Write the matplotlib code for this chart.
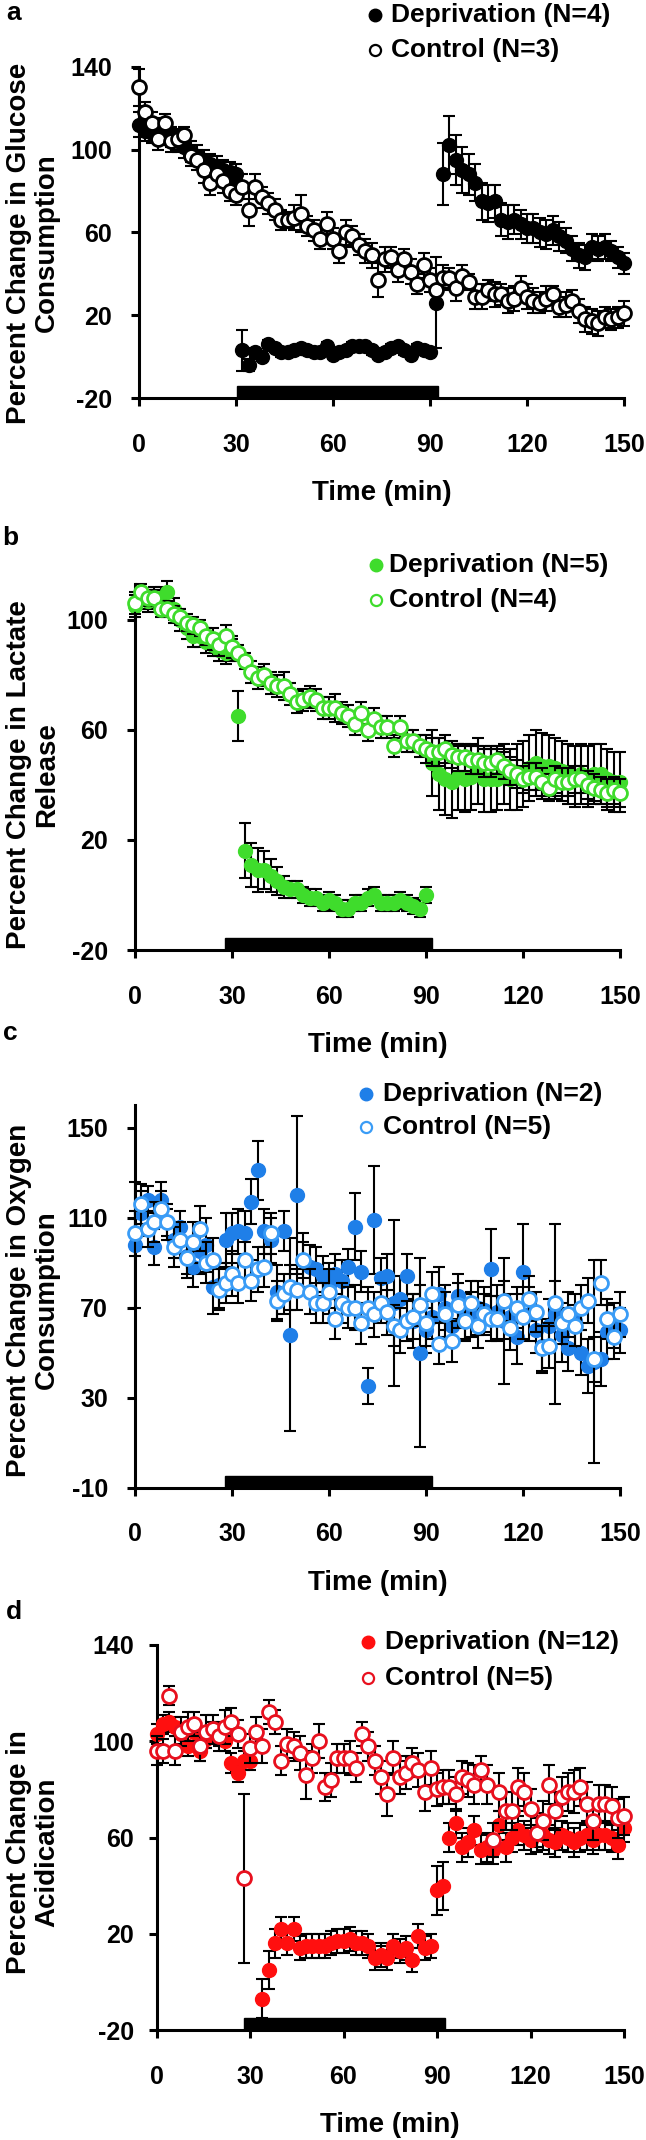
import matplotlib
matplotlib.use("Agg")
import matplotlib.pyplot as plt
import numpy as np
import matplotlib.transforms as mtransforms
from matplotlib.patches import Rectangle
from matplotlib.lines import Line2D

plt.rcParams['font.family'] = ['Liberation Sans', 'DejaVu Sans']
plt.rcParams['font.weight'] = 'bold'
plt.rcParams['axes.unicode_minus'] = False

nan = np.nan

TIME = [0, 2, 4, 6, 8, 10, 12, 14, 16, 18,
        20, 22, 24, 26, 28, 30, 32, 34, 36, 38,
        40, 42, 44, 46, 48, 50, 52, 54, 56, 58,
        60, 62, 64, 66, 68, 70, 72, 74, 76, 78,
        80, 82, 84, 86, 88, 90, 92, 94, 96, 98,
        100, 102, 104, 106, 108, 110, 112, 114, 116, 118,
        120, 122, 124, 126, 128, 130, 132, 134, 136, 138,
        140, 142, 144, 146, 148, 150]

# ---- a: glucose consumption ----
glucose_ctrl = [130, 118, 113, 105, 113, 104, 105, 107, 97, 95,
                90, 84, 88, 85, 80, 78, 82, 71, 82, 77,
                74, 71, 66, 66, 67, 69, 63, 61, 57, 64,
                57, 51, 60, 58, 54, 51, 49, 37, 47, 48,
                42, 47, 41, 35, 44, 37, 32, 38, 38, 33,
                39, 36, 29, 29, 32, 30, 30, 27, 28, 33,
                29, 27, 26, 28, 30, 24, 25, 27, 22, 18,
                17, 16, 19, 18, 19, 21]
glucose_ctrl_err = [9, 5, 5, 5, 4, 5, 5, 4, 5, 5,
                    6, 6, 5, 6, 5, 5, 6, 8, 6, 5,
                    5, 5, 5, 4, 6, 9, 5, 5, 5, 6,
                    5, 6, 6, 5, 5, 6, 6, 8, 6, 5,
                    6, 5, 6, 5, 6, 6, 7, 6, 5, 6,
                    5, 4, 6, 6, 5, 6, 5, 6, 6, 6,
                    6, 6, 5, 6, 4, 5, 6, 5, 6, 6,
                    6, 6, 5, 5, 5, 6]
glucose_dep = [112, 109, 108, 110, 107, 106, 104, 101, 99, 97,
               95, 93, 92, 90, 89, 88, 3, -4, 2, 0,
               6, 4, 2, 2, 3, 4, 3, 2, 2, 5,
               1, 2, 3, 5, 5, 5, 3, 1, 2, 4,
               5, 3, 1, 4, 3, 2, 26, 88, 102, 95,
               90, 88, 84, 75, 74, 75, 66, 65, 66, 64,
               62, 62, 60, 59, 61, 58, 56, 52, 49, 48,
               53, 52, 53, 51, 48, 45]
glucose_dep_err = [6, 5, 5, 5, 5, 5, 5, 5, 5, 5,
                   5, 5, 5, 5, 5, 5, 10, 3, 2, 2,
                   2, 2, 2, 2, 2, 2, 2, 2, 2, 2,
                   2, 2, 2, 2, 2, 2, 2, 2, 2, 2,
                   2, 2, 2, 2, 2, 2, 22, 15, 14, 12,
                   11, 10, 9, 9, 9, 8, 8, 8, 7, 7,
                   7, 7, 7, 7, 7, 7, 6, 6, 6, 6,
                   6, 6, 6, 5, 5, 5]

# ---- b: lactate release ----
lactate_ctrl = [106, 110, 108, 108, 104, 104, 102, 101, 99, 98,
                97, 94, 93, 91, 94, 90, 88, 85, 81, 79,
                80, 77, 76, 76, 73, 70, 71, 72, 71, 68,
                68, 68, 66, 65, 62, 66, 60, 64, 61, 61,
                54, 61, 56, 56, 54, 53, 52, 52, 53, 51,
                50, 50, 49, 49, 48, 48, 49, 47, 45, 44,
                42, 43, 43, 41, 39, 42, 41, 41, 42, 42,
                40, 39, 38, 37, 38, 37]
lactate_ctrl_err = [4, 3, 3, 3, 3, 3, 3, 3, 3, 3,
                    3, 3, 4, 4, 4, 4, 3, 3, 4, 4,
                    4, 4, 4, 5, 4, 4, 4, 4, 4, 4,
                    4, 5, 4, 4, 4, 4, 4, 4, 4, 4,
                    4, 4, 4, 4, 4, 5, 5, 5, 5, 5,
                    5, 5, 5, 5, 5, 5, 5, 5, 5, 5,
                    5, 5, 5, 5, 5, 5, 5, 5, 5, 5,
                    5, 5, 5, 5, 5, 5]
lactate_dep = [105, 108, 107, 108, 108, 110, 104, 100, 97, 94,
               94, 92, 91, 89, 88, 89, 65, 16, 11, 9,
               9, 7, 5, 3, 2, 2, 0, -1, -1, -3,
               -2, -3, -5, -5, -3, -3, -1, 0, -3, -3,
               -3, -2, -3, -4, -5, 0, 48, 44, 42, 41,
               43, 42, 43, 45, 42, 42, 42, 44, 42, 43,
               44, 46, 48, 47, 47, 46, 45, 44, 43, 44,
               43, 44, 44, 42, 41, 41]
lactate_dep_err = [4, 4, 4, 4, 4, 4, 4, 4, 4, 4,
                   4, 4, 4, 4, 4, 4, 9, 10, 8, 8,
                   7, 6, 5, 4, 3, 3, 3, 3, 3, 3,
                   3, 3, 3, 3, 3, 3, 3, 3, 3, 3,
                   3, 3, 3, 3, 3, 3, 12, 13, 13, 13,
                   12, 12, 12, 12, 12, 12, 11, 11, 11, 12,
                   12, 12, 12, 12, 11, 11, 11, 11, 11, 11,
                   11, 11, 11, 11, 11, 11]

# ---- c: oxygen consumption ----
oxygen_ctrl = [103, 116, 105, 108, 114, 108, 97, 100, 92, 99,
               105, 90, 91, 78, 81, 85, 81, 91, 82, 87,
               88, 103, 73, 76, 79, 78, 91, 77, 72, 72,
               77, 65, 72, 70, 70, 63, 70, 67, 72, 68,
               62, 60, 64, 66, 71, 63, 76, 54, 67, 55,
               71, 64, 72, 62, 67, 65, 65, 73, 61, 70,
               66, 74, 68, 52, 53, 72, 63, 67, 62, 70,
               73, 47, 81, 65, 57, 67]
oxygen_ctrl_err = [10, 9, 8, 9, 8, 8, 9, 8, 9, 9,
                   10, 9, 10, 9, 9, 10, 9, 8, 9, 10,
                   9, 9, 9, 9, 10, 9, 8, 10, 9, 9,
                   10, 9, 9, 9, 10, 9, 9, 10, 9, 10,
                   9, 10, 9, 10, 9, 10, 10, 9, 10, 9,
                   10, 9, 10, 10, 9, 10, 10, 9, 10, 9,
                   10, 10, 9, 10, 10, 10, 9, 10, 9, 10,
                   10, 10, 10, 9, 10, 10]
oxygen_dep = [98, 112, 118, 97, 118, 108, 100, 106, 93, 88,
              95, 98, 79, 80, 100, 103, 104, 103, 117, 131,
              104, 100, 77, 104, 58, 120, 91, 88, 87, 84,
              80, 85, 82, 88, 106, 86, 35, 109, 83, 84,
              72, 74, 84, 64, 50, 60, 66, 76, 70, 62,
              75, 66, 67, 70, 69, 87, 68, 64, 66, 57,
              86, 67, 60, 53, 62, 67, 58, 52, 64, 50,
              44, 46, 47, 59, 62, 60]
oxygen_dep_err = [28, 10, 6, 8, 8, 6, 8, 7, 8, 9,
                  10, 12, 12, 10, 12, 9, 10, 10, 10, 13,
                  10, 10, 12, 9, 43, 35, 12, 10, 10, 9,
                  10, 9, 9, 8, 15, 9, 8, 24, 9, 10,
                  37, 10, 10, 12, 42, 10, 10, 12, 10, 9,
                  10, 10, 10, 12, 10, 18, 12, 28, 10, 12,
                  21, 12, 10, 12, 12, 40, 12, 10, 12, 10,
                  12, 45, 12, 12, 10, 10]

# ---- d: acidification ----
acid_ctrl = [96, 96, 119, 96, 104, 106, 107, 98, 104, 105,
             102, 106, 108, 103, 43, 97, 104, 98, 112, 108,
             92, 99, 98, 95, 86, 93, 100, 81, 84, 93,
             93, 93, 89, 103, 98, 92, 85, 78, 93, 85,
             87, 91, 88, 79, 89, 80, 81, 81, 78, 85,
             84, 82, 88, 82, 59, 79, 71, 71, 81, 79,
             72, 62, 67, 82, 71, 77, 79, 79, 81, 74,
             67, 74, 74, 73, 68, 69]
acid_ctrl_err = [6, 5, 4, 6, 6, 6, 5, 6, 7, 6,
                 6, 7, 6, 6, 35, 6, 6, 7, 5, 5,
                 6, 6, 6, 7, 10, 6, 7, 6, 7, 6,
                 6, 7, 6, 5, 6, 6, 7, 9, 7, 7,
                 7, 6, 7, 8, 7, 7, 7, 7, 7, 7,
                 7, 8, 6, 8, 7, 8, 8, 8, 8, 8,
                 8, 8, 8, 8, 8, 8, 8, 9, 8, 9,
                 8, 8, 8, 8, 8, 8]
acid_dep = [103, 107, 108, 106, 103, 98, 104, 96, 101, 104,
            102, 100, 91, 87, 92, 92, nan, -7, 5, 16,
            22, 16, 22, 14, 15, 15, 15, 15, 16, 17,
            17, 18, 16, 16, 15, 10, 11, 10, 15, 13,
            14, 9, 19, 14, 15, 38, 40, 60, 66, 56,
            58, 63, 55, 56, 55, 65, 56, 60, 63, 61,
            59, 62, 61, 59, 58, 61, 60, 58, 60, 61,
            59, 61, 61, 60, 57, 64]
acid_dep_err = [4, 4, 4, 4, 4, 4, 4, 4, 4, 4,
                4, 4, 4, 4, 4, 4, 0, 8, 8, 6,
                5, 5, 5, 5, 5, 5, 5, 5, 5, 5,
                5, 5, 5, 5, 5, 5, 5, 5, 5, 5,
                5, 5, 5, 5, 5, 10, 10, 6, 6, 6,
                6, 6, 6, 6, 6, 6, 6, 6, 6, 6,
                6, 6, 6, 6, 6, 6, 6, 6, 6, 6,
                6, 6, 6, 6, 6, 6]

X_TICKS = [0, 30, 60, 90, 120, 150]
LABELS_DEP = ["Deprivation (N=4)", "Deprivation (N=5)", "Deprivation (N=2)", "Deprivation (N=12)"]
LABELS_CTRL = ["Control (N=3)", "Control (N=4)", "Control (N=5)", "Control (N=5)"]
Y_LABELS = ["Percent Change in Glucose\nConsumption",
            "Percent Change in Lactate\nRelease",
            "Percent Change in Oxygen\nConsumption",
            "Percent Change in\nAcidication"]
Y_TICKS = [[-20, 20, 60, 100, 140], [-20, 20, 60, 100], [-10, 30, 70, 110, 150], [-20, 20, 60, 100, 140]]
Y_LIMS = [(-20, 140), (-20, 113), (-10, 160), (-20, 140)]
BARS = [(30.3, 92.4), (27.8, 91.8), (27.8, 91.8), (28.0, 92.5)]
LETTERS = ["a", "b", "c", "d"]

W, H = 646, 2140
fig = plt.figure(figsize=(W / 100, H / 100), dpi=100)

# layout in pixels: left, right, top, bottom of the plotting area
layout = [
    dict(l=139, r=624, t=66.7, b=398, ypad=13.5, ylab_y=243, letter=(14, 13),
         leg=(375, 391, 15, 50)),
    dict(l=135, r=620, t=584, b=950, ypad=13.5, ylab_y=775, letter=(10, 538),
         leg=(376, 389, 565, 600)),
    dict(l=135, r=620, t=1105, b=1487.5, ypad=13.5, ylab_y=1300, letter=(10, 1033),
         leg=(366, 383, 1094, 1127)),
    dict(l=156.5, r=624, t=1645, b=2030, ypad=10, ylab_y=1852, letter=(14, 1612),
         leg=(368, 385, 1642, 1678)),
]

series = [
    (glucose_dep, glucose_dep_err, glucose_ctrl, glucose_ctrl_err),
    (lactate_dep, lactate_dep_err, lactate_ctrl, lactate_ctrl_err),
    (oxygen_dep, oxygen_dep_err, oxygen_ctrl, oxygen_ctrl_err),
    (acid_dep, acid_dep_err, acid_ctrl, acid_ctrl_err),
]
colors = [
    dict(dep_face="#000000", dep_edge="#000000", ctrl_edge="#000000"),
    dict(dep_face="#3fdc2c", dep_edge="#3fdc2c", ctrl_edge="#3fdc2c"),
    dict(dep_face="#1f7fe8", dep_edge="#1f7fe8", ctrl_edge="#3a9cf6"),
    dict(dep_face="#ff0f0f", dep_edge="#ff0f0f", ctrl_edge="#e8101e"),
]

MS = 10
for i in range(4):
    L = layout[i]
    ax = fig.add_axes([L['l'] / W, 1 - L['b'] / H, (L['r'] - L['l']) / W, (L['b'] - L['t']) / H])
    dep, dep_err, ctrl, ctrl_err = series[i]
    c = colors[i]
    ax.errorbar(TIME, dep, yerr=dep_err, fmt='none', ecolor='black', elinewidth=1.5,
                capsize=4.5, capthick=1.5, zorder=2, clip_on=False)
    ax.plot(TIME, dep, 'o', ms=MS, mfc=c['dep_face'], mec=c['dep_edge'], mew=1.0,
            zorder=3, clip_on=False)
    ax.errorbar(TIME, ctrl, yerr=ctrl_err, fmt='none', ecolor='black', elinewidth=1.5,
                capsize=4.5, capthick=1.5, zorder=4, clip_on=False)
    ax.plot(TIME, ctrl, 'o', ms=MS, mfc='white', mec=c['ctrl_edge'], mew=2.0,
            zorder=5, clip_on=False)

    ax.set_xlim(0, 150)
    ax.set_ylim(*Y_LIMS[i])
    ax.set_xticks(X_TICKS)
    ax.set_yticks(Y_TICKS[i])
    for s in ['top', 'right']:
        ax.spines[s].set_visible(False)
    for s in ['left', 'bottom']:
        ax.spines[s].set_linewidth(2.2)
    ax.tick_params(axis='both', direction='out', length=6, width=2.2, labelsize=18)
    ax.tick_params(axis='x', pad=19)
    ax.tick_params(axis='y', pad=L['ypad'])
    for lab in ax.get_xticklabels() + ax.get_yticklabels():
        lab.set_fontweight('bold')

    # deprivation period bar sitting on the x axis
    trans = mtransforms.blended_transform_factory(ax.transData, ax.transAxes)
    x0, x1 = BARS[i]
    ax.add_patch(Rectangle((x0, 0), x1 - x0, 12 / (L['b'] - L['t']), transform=trans,
                           facecolor='black', edgecolor='black', clip_on=False, zorder=6))

    # axis labels
    fig.text(33 / W, 1 - L['ylab_y'] / H, Y_LABELS[i], rotation=90, ha='center', va='center',
             fontsize=20, fontweight='bold', linespacing=1.1, multialignment='center')
    fig.text(((L['l'] + L['r']) / 2) / W, 1 - (L['b'] + 95) / H, "Time (min)",
             ha='center', va='center', fontsize=20, fontweight='bold')
    fig.text(L['letter'][0] / W, 1 - L['letter'][1] / H, LETTERS[i], ha='center', va='center',
             fontsize=19, fontweight='bold')

    # legend
    mx, tx, y1, y2 = L['leg']
    fig.add_artist(Line2D([mx / W], [1 - y1 / H], marker='o', ms=9, mfc=c['dep_face'],
                          mec=c['dep_edge'], linestyle='none', transform=fig.transFigure))
    fig.add_artist(Line2D([mx / W], [1 - y2 / H], marker='o', ms=8, mfc='white',
                          mec=c['ctrl_edge'], mew=1.6, linestyle='none', transform=fig.transFigure))
    fig.text(tx / W, 1 - y1 / H, LABELS_DEP[i], ha='left', va='center', fontsize=19,
             fontweight='bold')
    fig.text(tx / W, 1 - y2 / H, LABELS_CTRL[i], ha='left', va='center', fontsize=19,
             fontweight='bold')

fig.savefig("out.png", dpi=100)
